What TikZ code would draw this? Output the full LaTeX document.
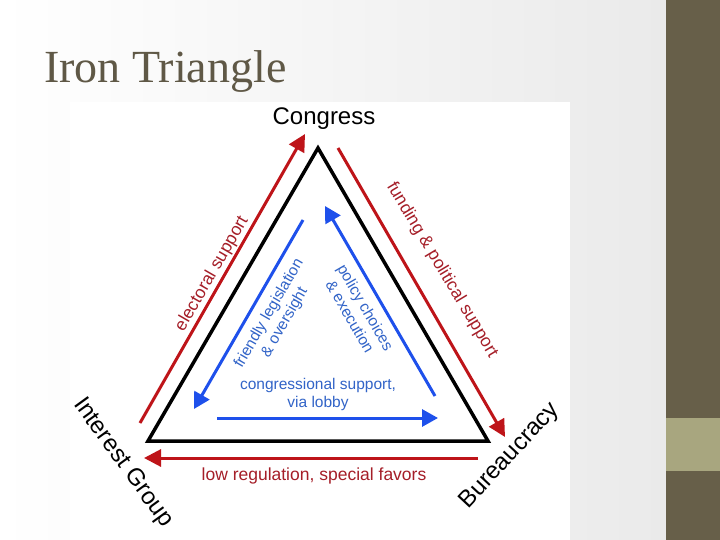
\documentclass[tikz,border=0pt]{standalone}
\usepackage{fontspec}
\setmainfont{Liberation Sans}
\newfontfamily\titlefont{Liberation Serif}
\usetikzlibrary{arrows.meta}
\definecolor{bar}{RGB}{103,95,73}
\definecolor{olive}{RGB}{168,166,127}
\definecolor{titlec}{RGB}{95,88,70}
\definecolor{ired}{RGB}{190,20,25}
\definecolor{iredtext}{RGB}{165,30,40}
\definecolor{iblue}{RGB}{30,80,235}
\definecolor{ibluetext}{RGB}{50,100,200}
\definecolor{bggray}{RGB}{234,234,234}
\begin{document}
\begin{tikzpicture}[x=1pt,y=-1pt,
  redarrow/.style={draw=ired, line width=3pt, -{Triangle[length=17pt,width=17pt]}},
  bluearrow/.style={draw=iblue, line width=3pt, -{Triangle[length=16pt,width=17pt]}},
  vertexlabel/.style={font=\fontsize{24}{28}\selectfont, text=black, inner sep=0pt},
  redlabel/.style={font=\fontsize{17.5}{21}\selectfont, text=iredtext, inner sep=0pt},
  bluelabel/.style={font=\fontsize{15.5}{18}\selectfont, text=ibluetext, inner sep=0pt, align=center},
]
\useasboundingbox (0,0) rectangle (720,540);
% slide background
\shade[left color=white, right color=bggray] (0,0) rectangle (666,540);
\fill[bar] (666,0) rectangle (720,540);
\fill[olive] (666,418) rectangle (720,471);
% pasted picture area
\fill[white] (70,102) rectangle (570,540);
% title
\node[anchor=base west, inner sep=0pt, text=titlec, font=\titlefont\fontsize{46}{50}\selectfont] (title) at (44,83) {Iron Triangle};
% triangle corners
\coordinate (A) at (318,148);
\coordinate (B) at (148,441);
\coordinate (C) at (488,441);
\draw[black, line width=3.5pt, line join=miter] (A) -- (B) -- (C) -- cycle;
% vertex labels
\node[vertexlabel, anchor=base] (congress) at (324,125) {Congress};
\node[vertexlabel, rotate=47] (bureau) at (510,456) {Bureaucracy};
\node[vertexlabel, rotate=-54] (interest) at (123,463) {Interest Group};
% red arrows
\coordinate (e1) at (140,423); \coordinate (e2) at (305,134);
\coordinate (f1) at (338,148); \coordinate (f2) at (505,437);
\coordinate (l1) at (478,458); \coordinate (l2) at (144,458);
\draw[redarrow] (e1) -- (e2);
\draw[redarrow] (f1) -- (f2);
\draw[redarrow] (l1) -- (l2);
% blue arrows
\coordinate (fl1) at (303,220); \coordinate (fl2) at (194,409);
\coordinate (pc1) at (435,396); \coordinate (pc2) at (325,206);
\coordinate (cs1) at (217,418); \coordinate (cs2) at (438,418);
\draw[bluearrow] (fl1) -- (fl2);
\draw[bluearrow] (pc1) -- (pc2);
\draw[bluearrow] (cs1) -- (cs2);
% red labels
\node[redlabel, rotate=60] (electoral) at (212,274) {electoral support};
\node[redlabel, rotate=-59] (funding) at (442,270) {funding \& political support};
\node[redlabel, anchor=base] (lowreg) at (314,480) {low regulation, special favors};
% blue labels
\node[bluelabel, rotate=60] (friendly) at (277,318) {friendly legislation\\\& oversight};
\node[bluelabel, rotate=-60] (policy) at (358,312) {policy choices\\\& execution};
\node[bluelabel] (congsup) at (318,394) {congressional support,\\via lobby};
\end{tikzpicture}
\end{document}
